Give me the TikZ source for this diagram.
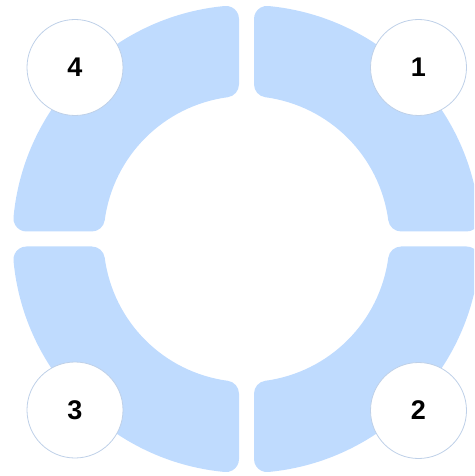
\documentclass[tikz,border=0pt]{standalone}
\usepackage{fontspec}
\setmainfont{Liberation Sans}
\usepackage{tikz}

\definecolor{segblue}{HTML}{BFDBFE}
\definecolor{ringedge}{HTML}{BED0E8}

\begin{document}
\begin{tikzpicture}[
  x=1pt, y=1pt,
  segment/.style={fill=segblue},
  badge/.style={circle, draw=ringedge, line width=0.8pt, fill=white, minimum size=96pt, inner sep=0pt, font=\fontsize{27}{30}\selectfont\bfseries}
]

\clip (-246.5,-237) rectangle (227.5,239);

% four ring segments, corners rounded by hand (radius 13)
\foreach \a in {0,90,180,270}{
  \fill[segment, rotate=\a] (7.5,154.65) -- (7.5,220.05)
    arc[start angle=180, end angle=84.68, radius=13]
    arc[start angle=84.68, end angle=5.32, radius=234]
    arc[start angle=5.32, end angle=-90, radius=13]
    -- (154.65,7.5)
    arc[start angle=270, end angle=187.55, radius=13]
    arc[start angle=7.55, end angle=82.45, radius=143]
    arc[start angle=262.45, end angle=180, radius=13]
    -- cycle;
}

\node[badge] (n1) at (172,171.5) {1};
\node[badge] (n2) at (172,-171.5) {2};
\node[badge] (n3) at (-171.5,-171) {3};
\node[badge] (n4) at (-171.5,171.5) {4};

\end{tikzpicture}
\end{document}
